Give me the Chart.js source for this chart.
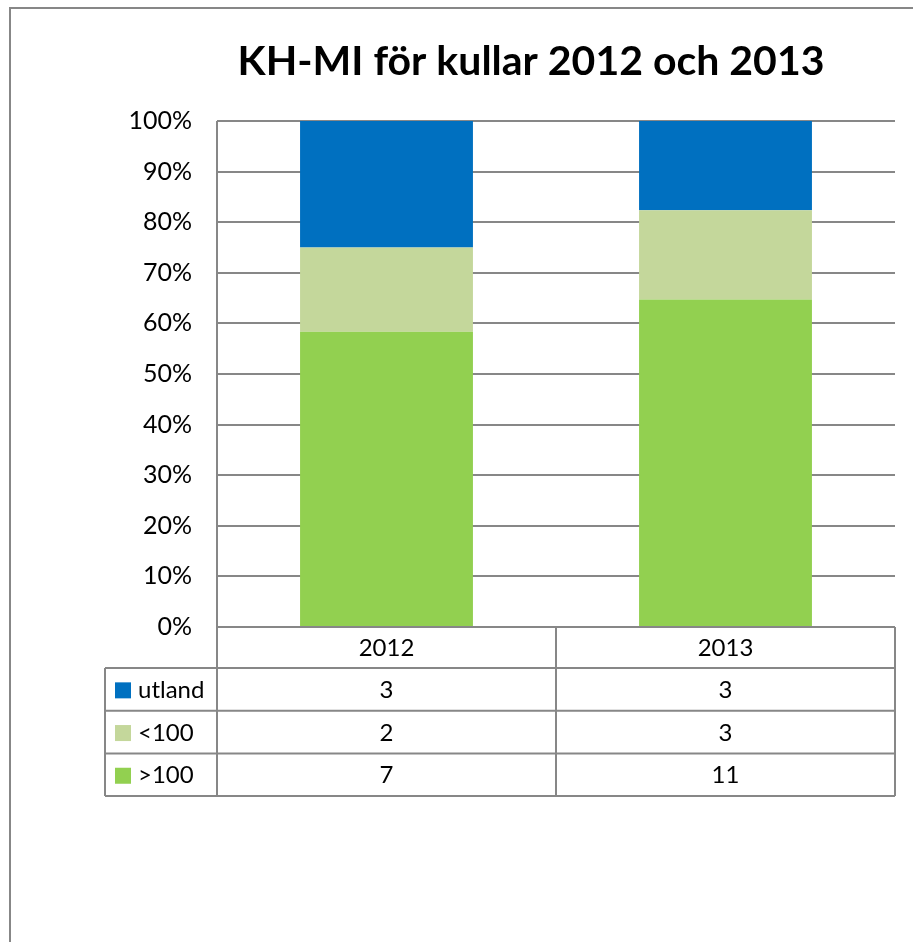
<!DOCTYPE html>
<html>
<head>
<meta charset="utf-8">
<script src="https://cdn.jsdelivr.net/npm/chart.js@4"></script>
<style>
  html, body { margin: 0; padding: 0; background: #fff; }
  #wrap { width: 913px; height: 942px; position: relative; }
</style>
</head>
<body>
<div id="wrap"><canvas id="kullChart" width="913" height="942"></canvas></div>
<script>
const chartTitle = 'KH-MI för kullar 2012 och 2013';
const categories = ['2012', '2013'];
const seriesNames = ['>100', '<100', 'utland'];
const over100 = [7, 11];
const under100 = [2, 3];
const utland = [3, 3];
const seriesColors = ['#92D050', '#C4D79B', '#0070C0'];
const yTicks = [0, 10, 20, 30, 40, 50, 60, 70, 80, 90, 100];

const counts = [over100, under100, utland];
const totals = categories.map((c, i) => counts.reduce((s, arr) => s + arr[i], 0));
const toPercent = arr => arr.map((v, i) => v / totals[i] * 100);

const FONT = 'Lato, "Open Sans", sans-serif';
const LINE = '#878787';

// frame, title and the data table under the plot
const tablePlugin = {
    id: 'dataTable',
    beforeDraw(chart) {
        const c = chart.ctx;
        c.save();
        c.strokeStyle = LINE;
        c.lineWidth = 2;
        c.beginPath();
        c.moveTo(10, 950);
        c.lineTo(10, 8);
        c.lineTo(920, 8);
        c.stroke();

        c.fillStyle = '#000';
        c.font = 'bold 41px ' + FONT;
        c.textAlign = 'center';
        c.textBaseline = 'alphabetic';
        c.fillText(chartTitle, 531, 75);
        c.restore();
    },
    afterDraw(chart) {
        const c = chart.ctx;
        const area = chart.chartArea;
        const x = chart.scales.x;
        const headerH = 41;
        const rowH = 42.7;
        const legendLeft = 105;
        const top = area.bottom;
        const rowsTop = top + headerH;
        const bottom = rowsTop + rowH * 3;
        const mid = x.getPixelForValue(0.5);

        c.save();
        c.strokeStyle = LINE;
        c.lineWidth = 2;
        c.beginPath();
        // vertical lines
        c.moveTo(area.left, area.top); c.lineTo(area.left, bottom);
        c.moveTo(mid, top); c.lineTo(mid, bottom);
        c.moveTo(area.right, top); c.lineTo(area.right, bottom);
        c.moveTo(legendLeft, rowsTop); c.lineTo(legendLeft, bottom);
        // horizontal lines
        c.moveTo(area.left, top); c.lineTo(area.right, top);
        for (let r = 0; r <= 3; r++) {
            const y = rowsTop + r * rowH;
            c.moveTo(legendLeft, y); c.lineTo(area.right, y);
        }
        c.stroke();

        c.fillStyle = '#000';
        c.font = '24px ' + FONT;
        c.textBaseline = 'middle';
        c.textAlign = 'center';
        categories.forEach((cat, i) => {
            c.fillText(cat, x.getPixelForValue(i), top + headerH / 2 + 1);
        });

        // rows top to bottom: utland, <100, >100
        for (let r = 0; r < 3; r++) {
            const s = 2 - r;
            const cy = rowsTop + r * rowH + rowH / 2 + 1;
            c.fillStyle = seriesColors[s];
            c.fillRect(legendLeft + 10, cy - 8, 16, 16);
            c.fillStyle = '#000';
            c.textAlign = 'left';
            c.fillText(seriesNames[s], legendLeft + 33, cy);
            c.textAlign = 'center';
            counts[s].forEach((v, i) => {
                c.fillText(String(v), x.getPixelForValue(i), cy);
            });
        }
        c.restore();
    }
};

new Chart(document.getElementById('kullChart'), {
    type: 'bar',
    data: {
        labels: categories,
        datasets: seriesNames.map((name, i) => ({
            label: name,
            data: toPercent(counts[i]),
            backgroundColor: seriesColors[i],
            borderWidth: 0,
            barPercentage: 0.51,
            categoryPercentage: 1
        }))
    },
    options: {
        responsive: false,
        animation: false,
        layout: { padding: { left: 0, top: 121, right: 18, bottom: 315 } },
        scales: {
            x: { stacked: true, display: false },
            y: {
                stacked: true,
                min: 0,
                max: 100,
                afterFit(scale) { scale.width = 217; },
                afterBuildTicks(scale) { scale.ticks = yTicks.map(v => ({ value: v })); },
                border: { display: false },
                grid: { color: LINE, lineWidth: 2, drawTicks: false },
                ticks: {
                    padding: 25,
                    color: '#000',
                    font: { family: FONT, size: 25 },
                    callback: v => v + '%'
                }
            }
        },
        plugins: {
            legend: { display: false },
            tooltip: { enabled: false },
            title: { display: false }
        }
    },
    plugins: [tablePlugin]
});
</script>
</body>
</html>
